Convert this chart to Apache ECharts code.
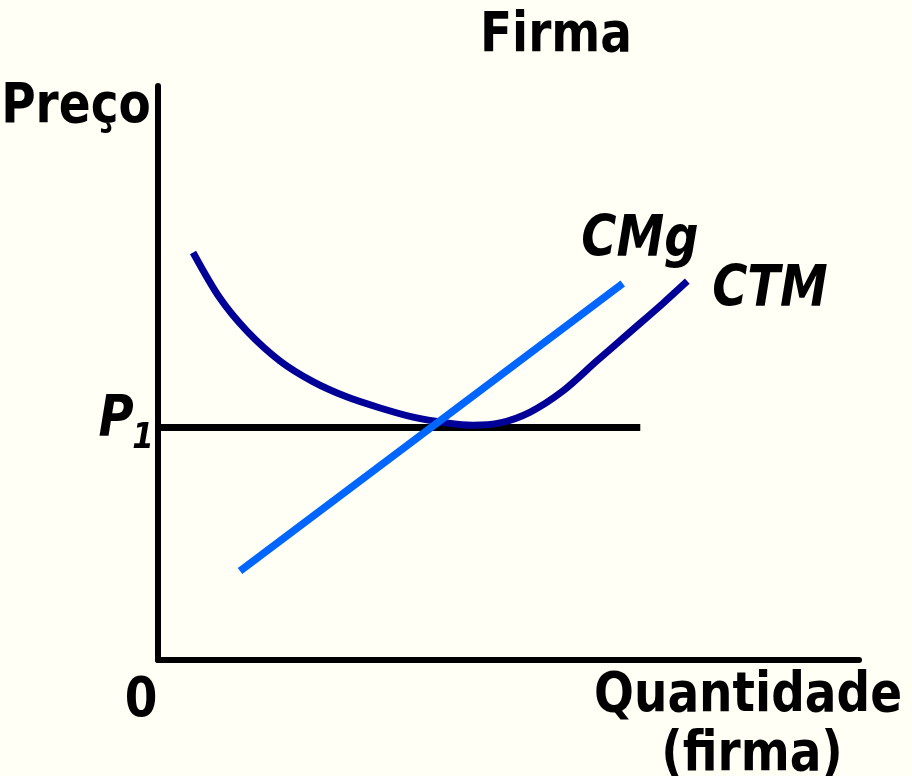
<!DOCTYPE html>
<html>
<head>
<meta charset="utf-8">
<script src="https://cdn.jsdelivr.net/npm/echarts@6/dist/echarts.min.js"></script>
<style>
html,body{margin:0;padding:0;background:#fffff5;}
#c{width:912px;height:776px;}
</style>
</head>
<body>
<div id="c"></div>
<script>
// Data (chart units: quantity 0-100, price 0-100)
const ctmQ = [5.0, 8.8, 12.7, 17.4, 22.1, 27.0, 31.7, 36.4, 41.2, 44.9, 48.8, 53.1, 57.8, 62.6, 67.3, 72.0, 75.5];
const ctmP = [71.0, 63.1, 57.3, 52.1, 48.5, 45.8, 43.9, 42.3, 41.3, 40.9, 41.3, 43.2, 46.9, 52.1, 57.1, 62.1, 66.0];
const cmgQ = [11.7, 66.3];
const cmgP = [15.5, 65.6];
const p1Q = [0, 68.8];
const p1Level = 40.5;
const titleText = 'Firma';
const yName = 'Preço';
const xName = ['Quantidade', '(firma)'];
const originLabel = '0';
const seriesLabels = ['CMg', 'CTM'];
const priceLabel = ['P', '1'];

const zip = (xs, ys) => xs.map((x, i) => [x, ys[i]]);

const chart = echarts.init(document.getElementById('c'));
const F = 'DejaVu Sans';
const bold = (text, x, y, size, italic, align) => ({
  type: 'text', x: x, y: y, scaleY: 1.17, z: 10,
  style: {
    text: text, fontFamily: F, fontWeight: 'bold', fontStyle: italic ? 'italic' : 'normal',
    fontSize: size, fill: '#000', align: align || 'center', verticalAlign: 'middle'
  }
});

chart.setOption({
  backgroundColor: '#fffff5',
  animation: false,
  grid: { left: 158, right: 53, top: 86, bottom: 116 },
  xAxis: {
    type: 'value', min: 0, max: 100,
    axisLine: { show: true, lineStyle: { color: '#000', width: 6, cap: 'round' } },
    axisTick: { show: false }, axisLabel: { show: false }, splitLine: { show: false }
  },
  yAxis: {
    type: 'value', min: 0, max: 100,
    axisLine: { show: true, lineStyle: { color: '#000', width: 6, cap: 'round' } },
    axisTick: { show: false }, axisLabel: { show: false }, splitLine: { show: false }
  },
  series: [
    {
      type: 'line', name: 'P1', data: p1Q.map(q => [q, p1Level]),
      symbol: 'none', lineStyle: { color: '#000', width: 7, cap: 'butt' }, z: 2
    },
    {
      type: 'line', name: seriesLabels[1], data: zip(ctmQ, ctmP), smooth: 0.3,
      symbol: 'none', lineStyle: { color: '#000099', width: 7, cap: 'butt', join: 'round' }, z: 3
    },
    {
      type: 'line', name: seriesLabels[0], data: zip(cmgQ, cmgP),
      symbol: 'none', lineStyle: { color: '#0066ff', width: 7.5, cap: 'butt' }, z: 4
    }
  ],
  graphic: [
    bold(titleText, 556, 37, 47),
    bold(yName, 76, 108, 47),
    bold(originLabel, 141, 702, 47),
    bold(xName[0], 748, 697, 47),
    bold(xName[1], 752, 756, 47),
    bold(seriesLabels[0], 640, 241, 48, true),
    bold(seriesLabels[1], 770, 291, 48, true),
    bold(priceLabel[0], 116, 421, 48, true),
    bold(priceLabel[1], 143, 439, 31, true)
  ]
});
</script>
</body>
</html>
